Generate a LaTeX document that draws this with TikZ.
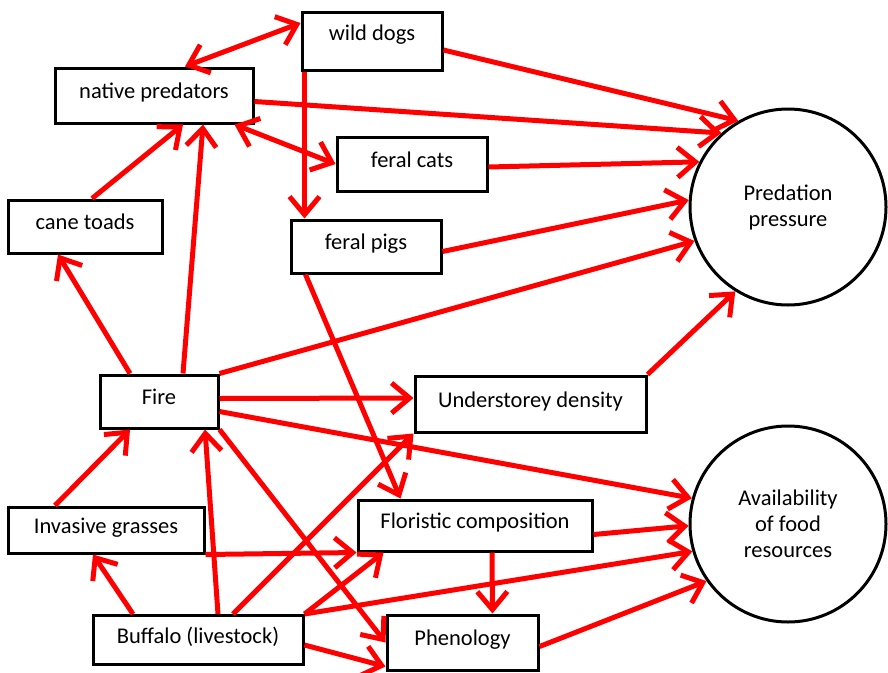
\documentclass[tikz,border=0pt]{standalone}
\usepackage{fontspec}
\setmainfont{Carlito}
\usetikzlibrary{arrows.meta}

\begin{document}
\begin{tikzpicture}[x=1pt,y=-1pt,
  box/.style={draw,line width=3pt,fill=white,inner sep=0pt,
    font=\fontsize{22.5}{26}\selectfont,text height=16pt,text depth=10pt},
  bigcircle/.style={draw,circle,line width=3pt,minimum size=196pt,inner sep=0pt,
    align=center,font=\fontsize{22.5}{26}\selectfont},
  link/.style={red,line width=5pt,-{Straight Barb[length=18pt,width=30pt]}},
  twolink/.style={red,line width=5pt,{Straight Barb[length=18pt,width=30pt]}-{Straight Barb[length=18pt,width=30pt]}}]
\useasboundingbox (0,0) rectangle (888,672);

\node[box,minimum width=140pt,minimum height=58pt,text depth=18pt] (dogs) at (372,41) {wild dogs};
\node[box,minimum width=198pt,minimum height=55pt] (nat) at (154,95.5) {native predators};
\node[box,minimum width=150pt,minimum height=54pt] (cats) at (412,164) {feral cats};
\node[box,minimum width=154pt,minimum height=53pt] (toads) at (85,226.5) {cane toads};
\node[box,minimum width=150pt,minimum height=53pt] (pigs) at (366,246.5) {feral pigs};
\node[box,minimum width=118pt,minimum height=53pt] (fire) at (159,401.5) {Fire};
\node[box,minimum width=231pt,minimum height=56pt] (und) at (530.5,404) {Understorey density};
\node[box,minimum width=196pt,minimum height=46pt] (inv) at (106,530) {Invasive grasses};
\node[box,minimum width=234pt,minimum height=51pt] (flor) at (475,525.5) {Floristic composition};
\node[box,minimum width=210pt,minimum height=49pt] (buf) at (198,640) {Buffalo (livestock)};
\node[box,minimum width=151pt,minimum height=55pt] (phen) at (462.5,642.5) {Phenology};
\node[bigcircle] (pred) at (788,207) {Predation\\pressure};
\node[bigcircle] (avail) at (788,524) {Availability\\of food\\resources};

\draw[twolink] ([xshift=31]nat.north) -- ([yshift=18]dogs.west);
\draw[twolink] ([xshift=-20]nat.south east) -- (cats.west);
\draw[link] ([xshift=4]dogs.south west) -- ([xshift=15]pigs.north west);
\draw[link] ([yshift=-9]dogs.east) -- (pred.120);
\draw[link] ([yshift=-6]nat.east) -- (pred.132);
\draw[link] ([yshift=-3]cats.east) -- (pred.153);
\draw[link] ([yshift=-5]pigs.east) -- (pred.176);
\draw[link] (fire.north east) -- (pred.200);
\draw[link] (und.north east) -- (pred.238);
\draw[link] ([xshift=7]toads.north) -- ([xshift=29]nat.south);
\draw[link] ([xshift=24]fire.north) -- ([xshift=49]nat.south);
\draw[link] ([xshift=-29]fire.north) -- ([xshift=-27]toads.south);
\draw[link] ([xshift=16]pigs.south west) -- ([xshift=44]flor.north west);
\draw[link] ([yshift=3]fire.east) -- ([yshift=6]und.west);
\draw[link] ([yshift=-10]fire.east) -- (avail.165);
\draw[link] (fire.south east) -- (phen.west);
\draw[link] ([xshift=-51]inv.north) -- ([xshift=-29]fire.south);
\draw[link] (inv.south east) -- (flor.south west);
\draw[link] ([xshift=-65]buf.north) -- ([xshift=-13]inv.south);
\draw[link] ([xshift=20]buf.north) -- ([xshift=46]fire.south);
\draw[link] ([xshift=35]buf.north) -- (und.south west);
\draw[link] (buf.north east) -- ([xshift=27]flor.south west);
\draw[link] (buf.north east) -- (avail.196);
\draw[link] ([yshift=-5]buf.east) -- ([yshift=5]phen.south west);
\draw[link] ([xshift=17]flor.south) -- ([xshift=30]phen.north);
\draw[link] ([yshift=-9]flor.east) -- (avail.181);
\draw[link] ([yshift=-4]phen.east) -- (avail.215);
\end{tikzpicture}
\end{document}
